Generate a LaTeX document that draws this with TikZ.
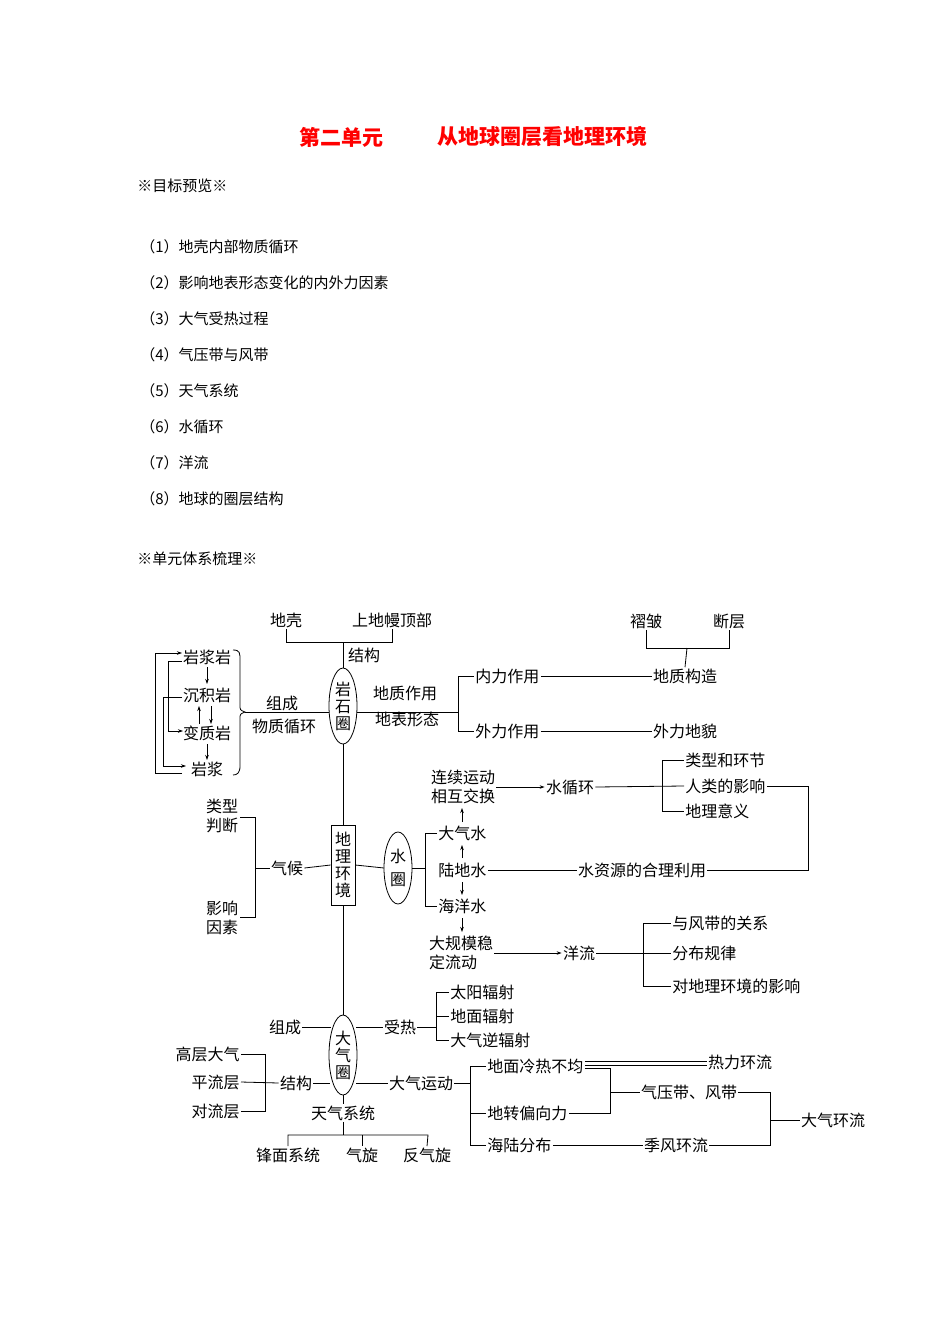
\documentclass[tikz,border=0pt]{standalone}
\usepackage{fontspec}
\newfontfamily\cjk{Noto Sans CJK SC}
\usetikzlibrary{arrows.meta}
\begin{document}
\begin{tikzpicture}[x=1pt,y=-1pt,line width=0.8pt,
  t/.style={font=\cjk\fontsize{16}{19}\selectfont,inner sep=1pt},
  li/.style={font=\cjk\fontsize{15}{18}\selectfont,inner sep=0pt,anchor=west},
  ttl/.style={font=\cjk\bfseries\fontsize{21}{24}\selectfont,text=red},
  vt/.style={font=\cjk\fontsize{16}{17}\selectfont,inner sep=0pt,align=center},
  ar/.style={-{Stealth[length=5pt,width=3.5pt]}}]
\useasboundingbox[fill=white] (0,0) rectangle (950,1344);
% header
\node[ttl] (h1) at (341,137) {第二单元};
\node[ttl] (h2) at (542,137) {从地球圈层看地理环境};
\node[li] (g1) at (137,186) {※目标预览※};
\foreach \y/\s [count=\i] in {247/（1）地壳内部物质循环,283/（2）影响地表形态变化的内外力因素,319/（3）大气受热过程,355/（4）气压带与风带,391/（5）天气系统,427/（6）水循环,463/（7）洋流,499/（8）地球的圈层结构}
  \node[li] (l\i) at (140,\y) {\s};
\node[li] (g2) at (137,559) {※单元体系梳理※};
% ---- lithosphere
\node[t] (dq) at (286,620) {地壳};
\node[t] (sd) at (392,620) {上地幔顶部};
\draw (dq.south) -- (286,642) -- (392,642) -- (sd.south);
\node[t] (jg1) at (364,655) {结构};
\draw (343,706) ellipse (14 and 38);
\node[vt] (ysq) at (343,706) {岩\\石\\圈};
\node[draw,minimum width=24pt,minimum height=80pt,inner sep=0pt] (dlhj) at (343,865) {};
\node[vt] at (343,865) {地\\理\\环\\境};
\draw (343,642) -- (343,668);
\draw (343,744) -- (dlhj.north);
\draw (dlhj.south) -- (343,1015);
\node[t] (dzzy) at (405,693) {地质作用};
\node[t] (dbxt) at (407,719) {地表形态};
\draw (357,712) -- (458,712);
\node[t,anchor=west] (nl) at (474,676) {内力作用};
\node[t,anchor=west] (wl) at (474,731) {外力作用};
\draw (nl.west) -- (458,676) -- (458,731) -- (wl.west);
\node[t] (dzgz) at (685,676) {地质构造};
\node[t] (wldm) at (685,731) {外力地貌};
\draw (nl.east) -- (dzgz.west);
\draw (wl.east) -- (wldm.west);
\node[t] (zz) at (646,621) {褶皱};
\node[t] (dc) at (729,621) {断层};
\draw (zz.south) -- (646,648) -- (729,648) -- (dc.south);
\draw (687,648) -- (dzgz.north);
% rock cycle
\node[t] (r1) at (207,657) {岩浆岩};
\node[t] (r2) at (207,695) {沉积岩};
\node[t] (r3) at (207,733) {变质岩};
\node[t] (r4) at (207,769) {岩浆};
\draw (233,650) .. controls (240,650) and (240,653) .. (240,660) -- (240,705) .. controls (240,710) .. (245,712) .. controls (240,714) .. (240,719) -- (240,766) .. controls (240,773) and (237,775) .. (233,775);
\draw (245,712) -- (329,712);
\node[t] (zc) at (282,703) {组成};
\node[t] (wzxh) at (284,726) {物质循环};
\draw[ar] (207,667) -- (207,684);
\draw[ar] (199,724) -- (199,706);
\draw[ar] (211,706) -- (211,724);
\draw[ar] (207,744) -- (207,760);
\draw[ar] (182,773) -- (155,773) -- (155,653) -- (182,653);
\draw[ar] (182,661) -- (168,661) -- (168,731) -- (183,731);
\draw[ar] (182,697) -- (163,697) -- (163,766) -- (186,766);
% climate
\node[t,align=center] (lx) at (222,816) {类型\\判断};
\node[t,align=center] (yx) at (222,918) {影响\\因素};
\node[t] (qh) at (287,868) {气候};
\draw (240,817) -- (255,817) -- (255,917) -- (240,917);
\draw (255,868) -- (qh.west);
\draw (qh.east) -- (dlhj.west);
% hydrosphere
\draw (398,868) ellipse (14 and 36);
\node[vt] (sq) at (398,868) {水\\[6pt]圈};
\draw (dlhj.east) -- (384,868);
\node[t,anchor=west] (dqs) at (437,833) {大气水};
\node[t,anchor=west] (lds) at (437,870) {陆地水};
\node[t,anchor=west] (hys) at (437,906) {海洋水};
\draw (412,868) -- (425,868);
\draw (dqs.west) -- (425,833) -- (425,906) -- (hys.west);
\draw[ar] (462,858) -- (462,845);
\draw[ar] (462,822) -- (462,808);
\draw[ar] (462,882) -- (462,895);
\draw[ar] (462,918) -- (462,932);
\node[t,align=center] (lxyd) at (463,787) {连续运动\\相互交换};
\node[t] (sxh) at (570,787) {水循环};
\draw[ar] (lxyd.east) -- (sxh.west);
\node[t,anchor=west] (lxhj) at (684,760) {类型和环节};
\node[t,anchor=west] (rldyx) at (684,786) {人类的影响};
\node[t,anchor=west] (dlyy) at (684,811) {地理意义};
\draw (sxh.east) -- (684,786);
\draw (lxhj.west) -- (662,760) -- (662,811) -- (dlyy.west);
\node[t] (sy) at (642,870) {水资源的合理利用};
\draw (lds.east) -- (sy.west);
\draw (rldyx.east) -- (808,786) -- (808,870) -- (sy.east);
\node[t,align=left] (dgm) at (461,953) {大规模稳\\定流动};
\node[t] (yl) at (579,953) {洋流};
\draw[ar] (dgm.east) -- (yl.west);
\node[t,anchor=west] (yfd) at (671,923) {与风带的关系};
\node[t,anchor=west] (fbgl) at (671,953) {分布规律};
\node[t,anchor=west] (dyx) at (671,986) {对地理环境的影响};
\draw (yl.east) -- (fbgl.west);
\draw (yfd.west) -- (643,923) -- (643,986) -- (dyx.west);
% atmosphere
\draw (343,1055) ellipse (14 and 40);
\node[vt] (dqq) at (343,1055) {大\\气\\圈};
\node[t] (zc2) at (285,1027) {组成};
\draw (zc2.east) -- (331,1027);
\node[t] (sr) at (400,1027) {受热};
\draw (356,1027) -- (sr.west);
\node[t,anchor=west] (tyfs) at (449,992) {太阳辐射};
\node[t,anchor=west] (dmfs) at (449,1016) {地面辐射};
\node[t,anchor=west] (dqnfs) at (449,1040) {大气逆辐射};
\draw (sr.east) -- (436,1027);
\draw (tyfs.west) -- (436,992) -- (436,1040) -- (dqnfs.west);
\draw (436,1016) -- (dmfs.west);
\node[t] (jg2) at (296,1083) {结构};
\draw (jg2.east) -- (330,1083);
\node[t,anchor=east] (gc) at (241,1054) {高层大气};
\node[t,anchor=east] (pl) at (241,1082) {平流层};
\node[t,anchor=east] (dl) at (241,1111) {对流层};
\draw (gc.east) -- (265,1054) -- (265,1111) -- (dl.east);
\draw (pl.east) -- (jg2.west);
\node[t] (dqyd) at (421,1083) {大气运动};
\draw (356,1083) -- (dqyd.west);
\node[t,anchor=west] (lr) at (486,1066) {地面冷热不均};
\node[t,anchor=west] (pxl) at (486,1113) {地转偏向力};
\node[t,anchor=west] (hl) at (486,1145) {海陆分布};
\draw (dqyd.east) -- (470,1083);
\draw (lr.west) -- (470,1066) -- (470,1145) -- (hl.west);
\draw (470,1113) -- (pxl.west);
\node[t] (rlhl) at (740,1062) {热力环流};
\draw (lr.east |- 0,1061) -- (rlhl.west |- 0,1061);
\draw (lr.east |- 0,1065) -- (rlhl.west |- 0,1065);
\draw (lr.east |- 0,1068) -- (610,1068) -- (610,1113) -- (pxl.east);
\node[t] (qyd) at (689,1092) {气压带、风带};
\draw (610,1092) -- (qyd.west);
\node[t] (jfhl) at (676,1145) {季风环流};
\draw (hl.east) -- (jfhl.west);
\draw (qyd.east) -- (770,1092) -- (770,1145) -- (jfhl.east);
\node[t] (dqhl) at (833,1120) {大气环流};
\draw (770,1120) -- (dqhl.west);
\node[t] (tqxt) at (343,1113) {天气系统};
\draw (343,1095) -- (tqxt.north);
\node[t] (fm) at (288,1155) {锋面系统};
\node[t] (qx) at (362,1155) {气旋};
\node[t] (fqx) at (427,1155) {反气旋};
\draw (tqxt.south) -- (343,1135);
\draw (fm.north) -- (288,1135) -- (428,1135) -- (fqx.north);
\draw (362,1135) -- (qx.north);
\end{tikzpicture}
\end{document}
